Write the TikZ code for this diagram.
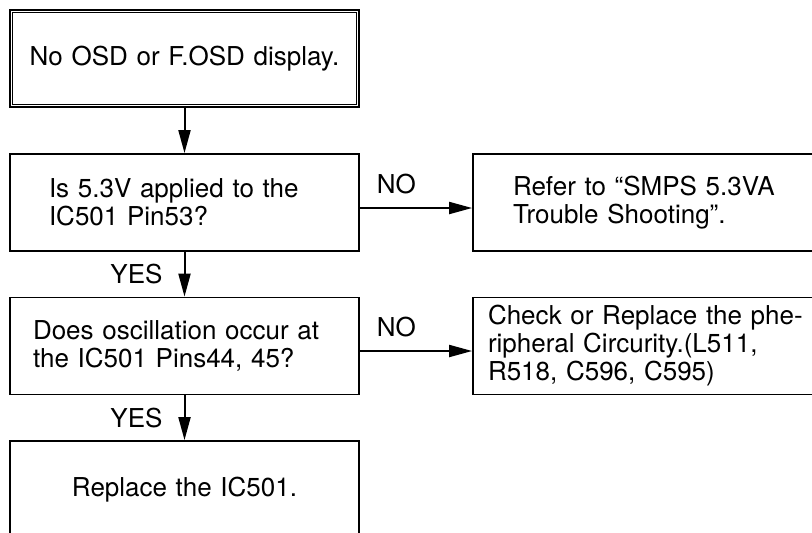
\documentclass[tikz,border=0pt]{standalone}
\usepackage{fontspec}
\setmainfont{TeX Gyre Heros}
\usepackage{tikz}
\usetikzlibrary{arrows.meta}

\tikzset{
  box/.style={draw, black, rectangle, line width=1.8pt, inner ysep=0pt,
    minimum height=97pt, align=left, font=\fontsize{26}{28}\selectfont},
  flow/.style={-{Triangle[length=23pt,width=12pt]}, line width=2pt, black},
  lbl/.style={inner sep=0pt, font=\fontsize{26}{28}\selectfont}
}

\begin{document}
\begin{tikzpicture}[x=1pt,y=-1pt]
        \useasboundingbox (0,0) rectangle (812,533);
        \clip (0,0) rectangle (812,533);

        % Start box with double frame
        \node[box, inner xsep=10pt, text width=329pt, align=center] (start) at (184.5,58.5) {No OSD or F.OSD display.};
        \draw[line width=1pt] ([shift={(3.5,3.5)}]start.north west) rectangle ([shift={(-3.5,-3.5)}]start.south east);

        % First check and its NO branch
        \node[box, inner xsep=39pt, text width=271pt] (volt) at (184.5,202.5) {Is 5.3V applied to the\\IC501 Pin53?};
        \node[box, inner xsep=40pt, text width=277pt] (smps) at (651.5,202.5) {Refer to “SMPS 5.3VA\\Trouble Shooting”.};

        % Second check and its NO branch
        \node[box, inner xsep=23pt, text width=303pt] (osc) at (184.5,346) {Does oscillation occur at\\the IC501 Pins44, 45?};
        \node[box, inner xsep=15pt, text width=327pt] (periph) at (651.5,346) {Check or Replace the phe-\\ripheral Circurity.(L511,\\R518, C596, C595)};

        % Last box
        \node[box, inner xsep=10pt, text width=329pt, align=center] (repl) at (184.5,489.5) {Replace the IC501.};

        % Arrows down the YES path
        \draw[flow] (start.south) -- (volt.north);
        \draw[flow] (volt.south) -- node[lbl, left=21pt] (yes1) {YES} (osc.north);
        \draw[flow] (osc.south) -- node[lbl, left=21pt] (yes2) {YES} (repl.north);

        % Arrows to the right for NO
        \draw[flow] ([yshift=-5.5pt]volt.east) -- node[lbl, pos=0, anchor=south west, xshift=16pt, yshift=13pt] (no1) {NO} ([yshift=-5.5pt]smps.west);
        \draw[flow] ([yshift=-5pt]osc.east) -- node[lbl, pos=0, anchor=south west, xshift=16pt, yshift=13pt] (no2) {NO} ([yshift=-5pt]periph.west);
\end{tikzpicture}
\end{document}
